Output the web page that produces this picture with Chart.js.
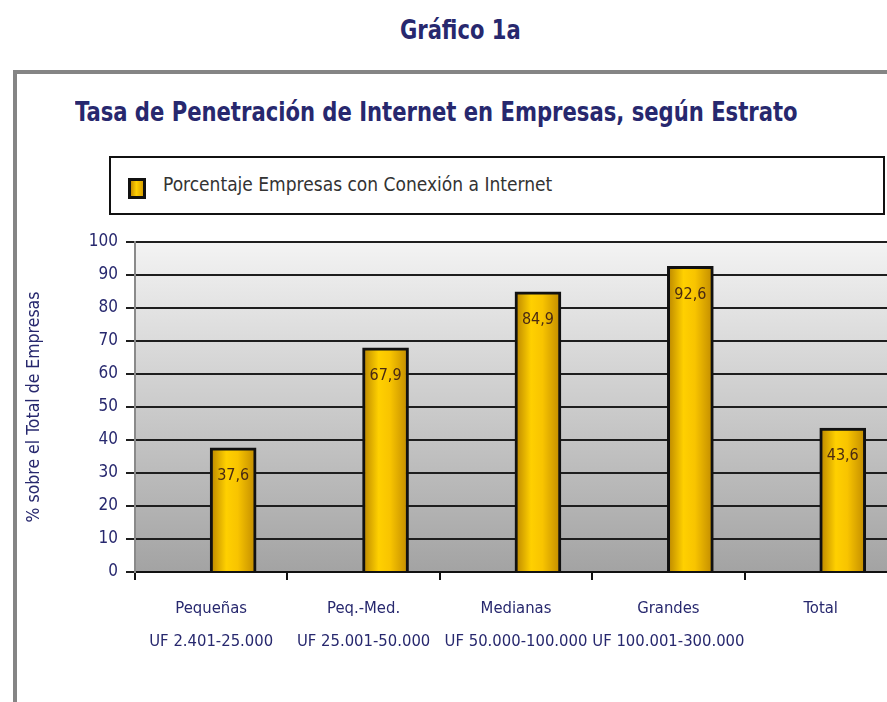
<!DOCTYPE html>
<html>
<head>
<meta charset="utf-8">
<script src="https://cdn.jsdelivr.net/npm/chart.js@4/dist/chart.umd.min.js"></script>
<style>
  html,body{margin:0;padding:0;background:#fff;overflow:hidden;width:887px;height:702px;}
  body{position:relative;font-family:"DejaVu Sans Condensed","Liberation Sans Narrow",sans-serif;}
  #heading{position:absolute;left:400px;top:15px;font-weight:bold;font-size:26px;color:#27286e;white-space:nowrap;transform:scaleX(0.9);transform-origin:0 0;}
  #frame{position:absolute;left:13px;top:70px;width:960px;height:700px;border:4px solid #858585;box-sizing:border-box;}
  #title{position:absolute;left:75px;top:96px;font-weight:bold;font-size:27px;color:#27286e;white-space:nowrap;transform:scaleX(0.87);transform-origin:0 0;}
  #legend{position:absolute;left:109px;top:156px;width:776px;height:59px;border:2px solid #111;box-sizing:border-box;}
  #legend .sw{position:absolute;left:17px;top:20px;width:12px;height:15px;border:3px solid #111;background:linear-gradient(90deg,#c89000,#ffd000 45%,#d9a000);}
  #legend .tx{position:absolute;left:52px;top:15px;font-size:19px;color:#333;white-space:nowrap;}
  #c{position:absolute;left:0;top:0;}
</style>
</head>
<body>
<div id="heading">Gráfico 1a</div>
<div id="frame"></div>
<div id="title">Tasa de Penetración de Internet en Empresas, según Estrato</div>
<div id="legend"></div>
<canvas id="c" width="910" height="702"></canvas>
<script>
const categories=[["Pequeñas","UF 2.401-25.000"],["Peq.-Med.","UF 25.001-50.000"],["Medianas","UF 50.000-100.000"],["Grandes","UF 100.001-300.000"],["Total"]];
const values=[37.6,67.9,84.9,92.6,43.6];
const seriesLabel="Porcentaje Empresas con Conexión a Internet";
const yTitle="% sobre el Total de Empresas";

const NAVY="#27286e";
const FONT='"DejaVu Sans Condensed","Liberation Sans Narrow",sans-serif';

const plotBg={
  id:"plotBg",
  beforeDraw(chart){
    const a=chart.chartArea, ctx=chart.ctx;
    const g=ctx.createLinearGradient(0,a.top,0,a.bottom);
    g.addColorStop(0,"#f3f3f3"); g.addColorStop(1,"#a3a3a3");
    ctx.save(); ctx.fillStyle=g; ctx.fillRect(a.left,a.top,a.right-a.left,a.bottom-a.top); ctx.restore();
  }
};

const barLabels={
  id:"barLabels",
  afterDatasetsDraw(chart){
    const ctx=chart.ctx;
    ctx.save();
    ctx.font="16px "+FONT; ctx.fillStyle="#4a2a12"; ctx.textAlign="center"; ctx.textBaseline="middle";
    chart.getDatasetMeta(0).data.forEach((b,i)=>{
      ctx.fillText(values[i].toFixed(1).replace(".",","),b.x,b.y+28);
    });
    ctx.restore();
  }
};

const htmlLegend={
  id:"htmlLegend",
  afterUpdate(chart){
    const el=document.getElementById("legend"); el.innerHTML="";
    chart.data.datasets.forEach(ds=>{
      const sw=document.createElement("span"); sw.className="sw";
      const tx=document.createElement("span"); tx.className="tx"; tx.textContent=ds.label;
      el.appendChild(sw); el.appendChild(tx);
    });
  }
};

function barFill(ctx){
  const chart=ctx.chart, s=chart.scales.xb;
  if(!chart.chartArea||!s) return "#f5c000";
  const x=s.getPixelForValue(ctx.dataIndex);
  const g=chart.ctx.createLinearGradient(x-23,0,x+23,0);
  g.addColorStop(0,"#b88400"); g.addColorStop(0.35,"#ffd000"); g.addColorStop(0.6,"#f8c400"); g.addColorStop(1,"#c08a00");
  return g;
}

new Chart(document.getElementById("c"),{
  type:"bar",
  data:{
    labels:categories,
    datasets:[{
      label:seriesLabel,
      xAxisID:"xb",
      data:values.map((v,i)=>({x:i,y:v})),
      backgroundColor:barFill,
      borderColor:"#111",
      borderWidth:3,
      barThickness:46
    }]
  },
  options:{
    responsive:false,
    animation:false,
    layout:{padding:{top:242,left:24,right:13,bottom:32}},
    plugins:{legend:{display:false},tooltip:{enabled:false}},
    scales:{
      xb:{type:"linear",display:false,offset:false,min:-0.644,max:4.356},
      x:{
        type:"category",
        offset:true,
        border:{color:"#111",width:2},
        grid:{drawOnChartArea:false,offset:true,tickLength:8,color:"#111",lineWidth:2},
        ticks:{color:NAVY,font:{family:FONT,size:16.5,lineHeight:2},padding:12,maxRotation:0,autoSkip:false}
      },
      y:{
        min:0,max:100,
        border:{color:"#8a8a8a",width:2},
        grid:{color:"#1e1e1e",lineWidth:2,tickLength:9},
        ticks:{stepSize:10,color:NAVY,font:{family:FONT,size:17},padding:8},
        title:{display:true,text:yTitle,color:NAVY,font:{family:FONT,size:17.5},padding:0},
        afterFit(s){ s.width=111; }
      }
    }
  },
  plugins:[plotBg,barLabels,htmlLegend]
});
</script>
</body>
</html>
